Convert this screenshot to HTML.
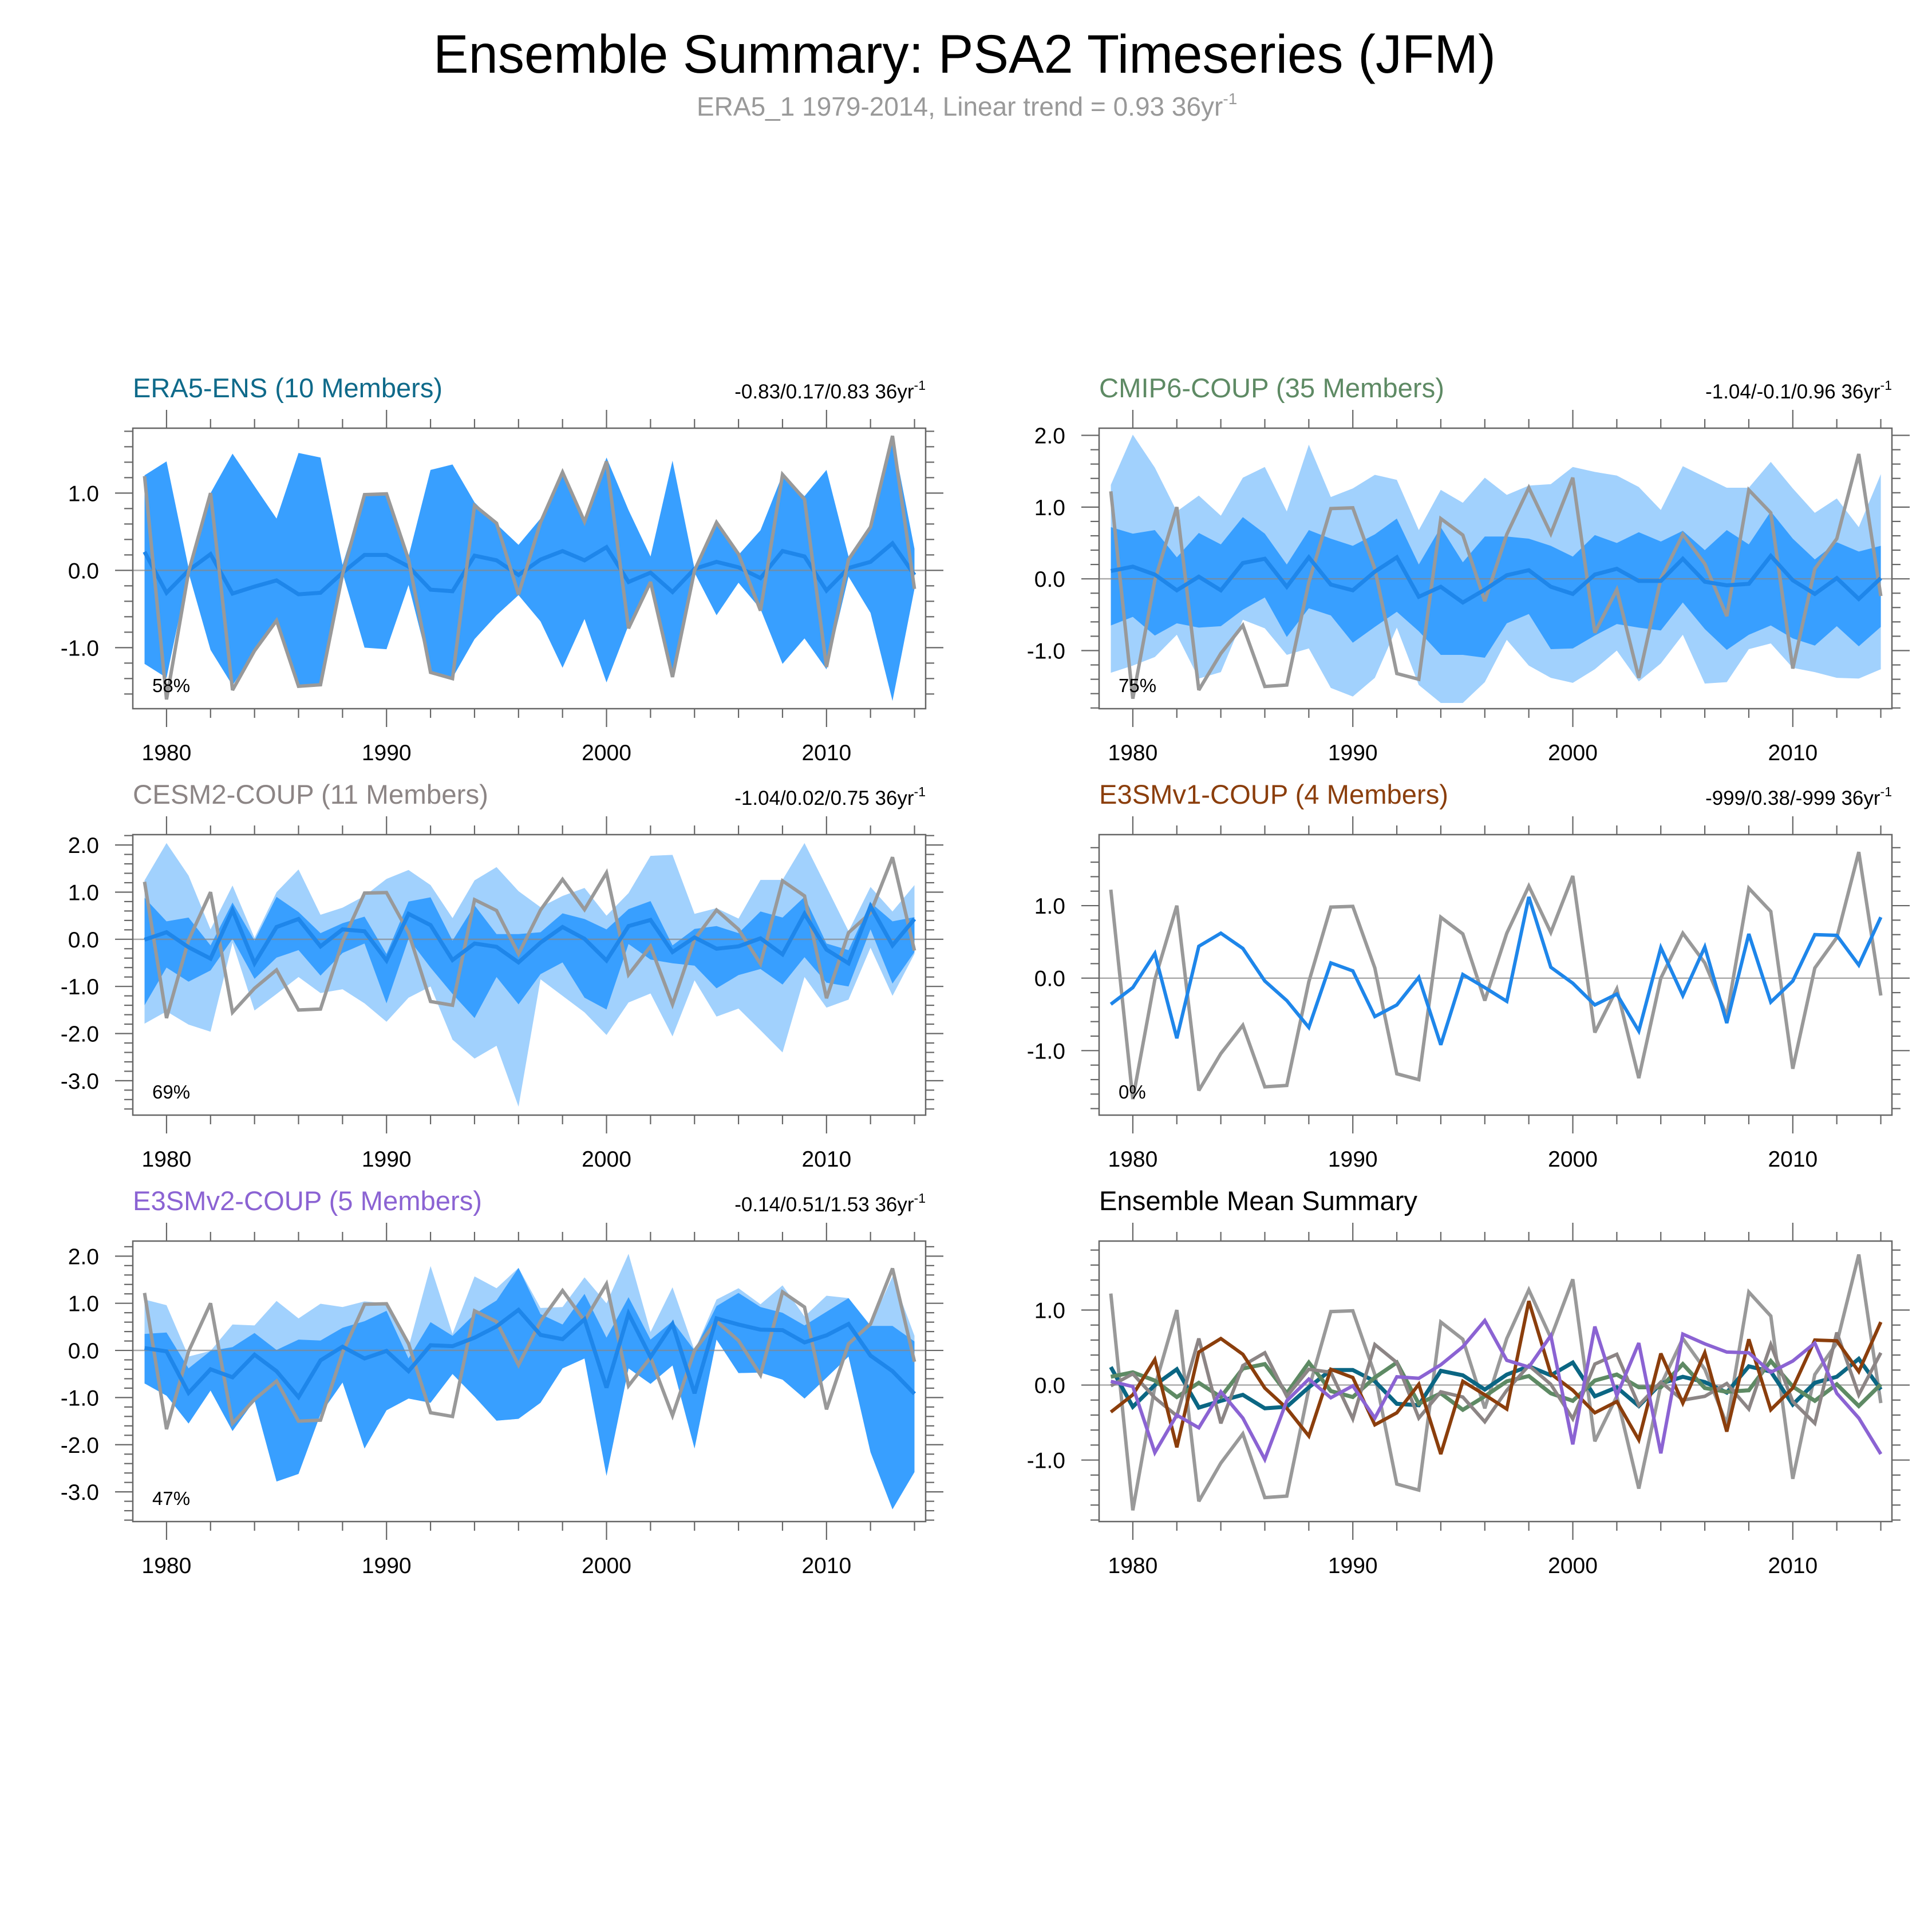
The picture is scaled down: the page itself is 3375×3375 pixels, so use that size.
<!DOCTYPE html>
<html><head><meta charset="utf-8"><style>
html,body{margin:0;padding:0;background:#fff;}
svg{display:block;}
text{font-family:"Liberation Sans",Arial,sans-serif;}
</style></head><body>
<svg id="chart" width="3375" height="3375" viewBox="0 0 3375 3375" xmlns="http://www.w3.org/2000/svg">
<rect x="0" y="0" width="3375" height="3375" fill="#fff"/>
<text x="1685" y="127" font-size="95" text-anchor="middle" textLength="1856" lengthAdjust="spacingAndGlyphs" fill="#000">Ensemble Summary: PSA2 Timeseries (JFM)</text>
<text x="1217" y="202" font-size="46" fill="#999">ERA5_1 1979-2014, Linear trend = 0.93 36yr<tspan font-size="28" dy="-20">-1</tspan></text>
</svg>
<script>
// ---- data ----
const startYear = 1979;
const nYears = 36;
const obsERA5 = [1.22,-1.67,-0.02,1.0,-1.55,-1.04,-0.65,-1.5,-1.48,-0.05,0.98,0.99,0.14,-1.32,-1.4,0.84,0.61,-0.31,0.62,1.27,0.63,1.41,-0.75,-0.15,-1.38,0.0,0.62,0.21,-0.52,1.24,0.92,-1.25,0.14,0.56,1.74,-0.24];

const era5Mean = [0.24,-0.29,0,0.21,-0.3,-0.21,-0.13,-0.31,-0.29,-0.03,0.2,0.2,0.05,-0.25,-0.27,0.19,0.13,-0.06,0.14,0.25,0.13,0.3,-0.15,-0.03,-0.28,0.02,0.11,0.04,-0.1,0.25,0.18,-0.26,0.03,0.11,0.35,-0.06];
const era5Hi = [1.23,1.41,0.03,1.0,1.51,1.09,0.67,1.52,1.46,0.07,0.99,1.01,0.18,1.3,1.37,0.88,0.6,0.33,0.67,1.27,0.65,1.46,0.78,0.18,1.42,0.02,0.62,0.2,0.52,1.24,0.96,1.3,0.18,0.6,1.74,0.28];
const era5Lo = [-1.21,-1.39,-0.03,-1.03,-1.49,-1.05,-0.66,-1.52,-1.48,-0.03,-1.0,-1.02,-0.19,-1.31,-1.39,-0.89,-0.58,-0.32,-0.66,-1.26,-0.63,-1.45,-0.71,-0.16,-1.34,-0.03,-0.58,-0.16,-0.5,-1.21,-0.88,-1.28,-0.08,-0.55,-1.69,-0.24];

const cmipMean = [0.11,0.17,0.06,-0.16,0.03,-0.16,0.22,0.28,-0.11,0.30,-0.08,-0.16,0.10,0.30,-0.25,-0.11,-0.33,-0.15,0.05,0.12,-0.11,-0.21,0.06,0.14,-0.03,-0.03,0.28,-0.04,-0.09,-0.07,0.32,-0.02,-0.21,0.01,-0.28,0.01];
const cmipHi50 = [0.72,0.63,0.68,0.30,0.64,0.48,0.86,0.63,0.20,0.68,0.56,0.46,0.62,0.84,0.20,0.72,0.23,0.59,0.59,0.56,0.46,0.31,0.61,0.50,0.65,0.52,0.67,0.40,0.68,0.48,0.94,0.56,0.27,0.51,0.38,0.46];
const cmipLo50 = [-0.65,-0.53,-0.79,-0.62,-0.68,-0.66,-0.43,-0.26,-0.81,-0.41,-0.51,-0.89,-0.67,-0.46,-0.73,-1.06,-1.06,-1.10,-0.62,-0.49,-0.98,-0.97,-0.79,-0.63,-0.68,-0.72,-0.33,-0.70,-0.99,-0.78,-0.65,-0.83,-0.93,-0.66,-0.94,-0.67];
const cmipHi = [1.31,2.01,1.55,0.94,1.16,0.88,1.41,1.56,0.94,1.87,1.14,1.26,1.45,1.38,0.68,1.24,1.06,1.41,1.17,1.30,1.32,1.56,1.49,1.44,1.28,0.96,1.57,1.42,1.27,1.27,1.63,1.26,0.92,1.12,0.72,1.46];
const cmipLo = [-1.31,-1.21,-1.09,-0.78,-1.39,-1.30,-0.57,-0.69,-1.06,-0.97,-1.52,-1.64,-1.38,-0.68,-1.48,-1.73,-1.73,-1.44,-0.85,-1.21,-1.38,-1.45,-1.26,-1.00,-1.43,-1.18,-0.78,-1.46,-1.44,-0.98,-0.90,-1.24,-1.30,-1.38,-1.39,-1.26];

const cesmMean = [-0.01,0.15,-0.17,-0.41,0.62,-0.51,0.26,0.43,-0.15,0.21,0.17,-0.45,0.54,0.30,-0.44,-0.09,-0.16,-0.49,-0.07,0.26,0.01,-0.45,0.28,0.41,-0.27,0.04,-0.20,-0.15,0.02,-0.32,0.54,-0.22,-0.51,0.70,-0.13,0.43];
const cesmHi50 = [0.88,0.38,0.46,-0.13,0.78,-0.03,0.90,0.58,0.13,0.34,0.48,-0.31,0.80,0.89,-0.03,0.72,0.11,0.11,0.15,0.55,0.43,0.21,0.64,0.81,-0.13,0.22,0.28,0.13,0.59,0.46,0.90,-0.09,-0.23,0.78,0.38,0.47];
const cesmLo50 = [-1.40,-0.60,-0.90,-0.66,0.01,-0.84,-0.39,-0.23,-0.77,-0.29,-0.09,-1.36,0.01,-0.60,-1.16,-1.67,-0.80,-1.38,-0.74,-0.49,-1.24,-1.49,-0.10,-0.43,-0.51,-0.56,-1.04,-0.76,-0.63,-0.96,-0.38,-0.92,-1.00,0.21,-0.94,-0.27];
const cesmHi = [1.25,2.04,1.35,0.21,1.14,0.03,1.00,1.48,0.52,0.67,0.92,1.28,1.47,1.15,0.45,1.25,1.53,1.02,0.68,0.92,1.09,0.50,0.98,1.77,1.79,0.54,0.66,0.44,1.26,1.26,2.04,1.11,0.17,1.11,0.59,1.15];
const cesmLo = [-1.79,-1.53,-1.81,-1.96,-0.07,-1.51,-1.16,-0.80,-1.14,-1.06,-1.36,-1.75,-1.24,-1.00,-2.13,-2.53,-2.26,-3.55,-0.85,-1.20,-1.55,-2.03,-1.34,-1.15,-2.06,-0.87,-1.64,-1.47,-1.93,-2.40,-0.80,-1.45,-1.28,-0.18,-1.20,-0.31];

const e3v1Mean = [-0.36,-0.13,0.34,-0.83,0.44,0.62,0.41,-0.04,-0.31,-0.68,0.21,0.10,-0.53,-0.37,0.01,-0.92,0.05,-0.13,-0.32,1.12,0.15,-0.07,-0.37,-0.22,-0.73,0.42,-0.24,0.43,-0.62,0.61,-0.33,-0.04,0.60,0.59,0.18,0.84];

const e3v2Mean = [0.05,-0.02,-0.90,-0.40,-0.57,-0.09,-0.44,-0.99,-0.21,0.08,-0.17,-0.01,-0.44,0.11,0.09,0.27,0.51,0.86,0.33,0.24,0.66,-0.79,0.78,-0.14,0.56,-0.91,0.68,0.55,0.44,0.43,0.17,0.32,0.56,-0.11,-0.44,-0.92];
const e3v2Hi50 = [0.35,0.38,-0.38,-0.01,0.07,0.37,0.01,0.23,0.21,0.48,0.62,0.84,-0.17,0.60,0.31,0.77,1.06,1.75,0.77,0.55,1.20,0.27,1.13,0.23,0.62,0.00,0.94,1.22,0.92,0.80,0.53,0.82,1.11,0.52,0.52,0.19];
const e3v2Lo50 = [-0.70,-0.96,-1.55,-0.85,-1.71,-1.06,-2.78,-2.62,-1.35,-0.68,-2.08,-1.27,-1.02,-1.11,-0.50,-0.98,-1.49,-1.45,-1.11,-0.38,-0.17,-2.66,-0.38,-0.71,-0.32,-2.08,0.23,-0.48,-0.47,-0.62,-1.02,-0.58,-0.13,-2.16,-3.37,-2.58];
const e3v2Hi = [1.08,0.96,-0.13,-0.01,0.55,0.53,1.05,0.68,0.99,0.92,1.04,1.00,0.07,1.79,0.35,1.57,1.32,1.75,0.90,0.92,1.55,1.00,2.05,0.39,1.34,0.00,1.08,1.32,0.98,1.38,0.72,1.16,1.11,0.53,1.57,0.31];
const e3v2Lo = e3v2Lo50;

const xTickLabels = [1980,1990,2000,2010];

// ---- drawing ----
const NS = 'http://www.w3.org/2000/svg';
const svg = document.getElementById('chart');
function mk(tag, attrs, parent){
  const e = document.createElementNS(NS, tag);
  for (const k in attrs) e.setAttribute(k, attrs[k]);
  (parent||svg).appendChild(e);
  return e;
}
const C_LIGHT = '#a1d1fd', C_DARK = '#389fff', C_MEAN = '#1e86ea', C_OBS = '#999999';

function makePanel(p){
  const g = mk('g', {});
  
  
  const w = 1385, h = 490;
  const xs = i => p.x0 + 20.5 + i * 38.43;
  const xy = yr => xs(yr - startYear);
  const ys = v => p.y0 + (p.ymax - v) / (p.ymax - p.ymin) * h;
  function band(hi, lo, color, nm){
    let d = '';
    for (let i=0;i<nYears;i++) d += (i?'L':'M') + xs(i).toFixed(1) + ',' + ys(hi[i]).toFixed(1);
    for (let i=nYears-1;i>=0;i--) d += 'L' + xs(i).toFixed(1) + ',' + ys(lo[i]).toFixed(1);
    const e = mk('path', {d: d+'Z', fill: color, stroke: 'none'}, g);
    
    
  }
  function line(arr, color, width, nm){
    let d = '';
    for (let i=0;i<nYears;i++) d += (i?'L':'M') + xs(i).toFixed(1) + ',' + ys(arr[i]).toFixed(1);
    const e = mk('path', {d: d, fill: 'none', stroke: color, 'stroke-width': width, 'stroke-linejoin': 'miter', 'stroke-miterlimit': 3}, g);
    
    
  }
  if (p.light) band(p.light[0], p.light[1], C_LIGHT, 'outer-spread-band');
  if (p.dark) band(p.dark[0], p.dark[1], C_DARK, 'inner-spread-band');
  const z = mk('line', {x1: p.x0, x2: p.x0 + w, y1: ys(0), y2: ys(0), stroke: '#888', 'stroke-opacity': 0.7, 'stroke-width': 2.5}, g);
  
  
  if (p.lines) p.lines.forEach(l => line(l[0], l[1], l[2], l[3]));
  const fr = mk('rect', {x: p.x0, y: p.y0, width: w, height: h, fill: 'none', stroke: '#666', 'stroke-width': 2.5}, g);
  
  
  const tg = mk('g', {stroke: '#666', 'stroke-width': 2.2}, g);
  for (let k = Math.ceil(p.ymin*5); k <= Math.floor(p.ymax*5); k++){
    const v = k/5, y = ys(v), major = (k % 5 === 0), L = major ? 31 : 15;
    mk('line', {x1: p.x0 - L, x2: p.x0, y1: y, y2: y}, tg);
    mk('line', {x1: p.x0 + w, x2: p.x0 + w + L, y1: y, y2: y}, tg);
    if (major){
      const t = mk('text', {x: p.x0 - 59, y: y + 14, 'font-size': 39, 'text-anchor': 'end', fill: '#000', stroke: 'none'}, g);
      
      
      t.textContent = (v === 0 ? 0 : v).toFixed(1);
    }
  }
  for (let yr = 1980; yr <= 2014; yr += 2){
    const x = xy(yr), major = (yr % 10 === 0), L = major ? 32 : 16;
    mk('line', {x1: x, x2: x, y1: p.y0 + h, y2: p.y0 + h + L}, tg);
    mk('line', {x1: x, x2: x, y1: p.y0 - L, y2: p.y0}, tg);
  }
  xTickLabels.forEach(yr => {
    const t = mk('text', {x: xy(yr), y: p.y0 + h + 90, 'font-size': 39, 'text-anchor': 'middle', fill: '#000'}, g);
    
    
    t.textContent = yr;
  });
  const ht = mk('text', {x: p.x0, y: p.y0 - 54, 'font-size': 47, fill: p.color, textLength: p.tw, lengthAdjust: 'spacingAndGlyphs'}, g);
  
  
  ht.textContent = p.title;
  if (p.trend){
    const tt = mk('text', {x: p.x0 + w, y: p.y0 - 52, 'font-size': 35, 'text-anchor': 'end', fill: '#000'}, g);
    
    
    tt.textContent = p.trend + ' 36yr';
    const sp = mk('tspan', {'font-size': 23, dy: -15}, tt);
    sp.textContent = '-1';
  }
  if (p.pct){
    const pt = mk('text', {x: p.x0 + 34, y: p.y0 + 461, 'font-size': 33, fill: '#000'}, g);
    
    
    pt.textContent = p.pct;
  }
}

const LX = 232, RX = 1920, R1 = 748, R2 = 1458, R3 = 2168;
makePanel({name:'era5-ens-panel', x0:LX, y0:R1, ymin:-1.79, ymax:1.84, title:'ERA5-ENS (10 Members)', color:'#0f6a8a', tw:541, trend:'-0.83/0.17/0.83', pct:'58%',
  dark:[era5Hi, era5Lo], lines:[[era5Mean, C_MEAN, 7, 'ensemble-mean-line'], [obsERA5, C_OBS, 6, 'observed-era5-line']]});
makePanel({name:'cmip6-coup-panel', x0:RX, y0:R1, ymin:-1.81, ymax:2.10, title:'CMIP6-COUP (35 Members)', color:'#5e8a64', tw:603, trend:'-1.04/-0.1/0.96', pct:'75%',
  light:[cmipHi, cmipLo], dark:[cmipHi50, cmipLo50], lines:[[obsERA5, C_OBS, 6, 'observed-era5-line'], [cmipMean, C_MEAN, 7, 'ensemble-mean-line']]});
makePanel({name:'cesm2-coup-panel', x0:LX, y0:R2, ymin:-3.73, ymax:2.22, title:'CESM2-COUP (11 Members)', color:'#8c8585', tw:621, trend:'-1.04/0.02/0.75', pct:'69%',
  light:[cesmHi, cesmLo], dark:[cesmHi50, cesmLo50], lines:[[obsERA5, C_OBS, 6, 'observed-era5-line'], [cesmMean, C_MEAN, 7, 'ensemble-mean-line']]});
makePanel({name:'e3smv1-coup-panel', x0:RX, y0:R2, ymin:-1.89, ymax:1.98, title:'E3SMv1-COUP (4 Members)', color:'#8b3e0c', tw:610, trend:'-999/0.38/-999', pct:'0%',
  lines:[[obsERA5, C_OBS, 6, 'observed-era5-line'], [e3v1Mean, C_MEAN, 6, 'ensemble-mean-line']]});
makePanel({name:'e3smv2-coup-panel', x0:LX, y0:R3, ymin:-3.63, ymax:2.32, title:'E3SMv2-COUP (5 Members)', color:'#8b63d3', tw:610, trend:'-0.14/0.51/1.53', pct:'47%',
  light:[e3v2Hi, e3v2Lo], dark:[e3v2Hi50, e3v2Lo50], lines:[[obsERA5, C_OBS, 6, 'observed-era5-line'], [e3v2Mean, C_MEAN, 7, 'ensemble-mean-line']]});
makePanel({name:'ensemble-mean-summary-panel', x0:RX, y0:R3, ymin:-1.82, ymax:1.92, title:'Ensemble Mean Summary', color:'#000', tw:556,
  lines:[[obsERA5, C_OBS, 6, 'observed-era5-line'], [era5Mean, '#0b6683', 7, 'era5-ens-mean-line'], [cmipMean, '#5e8a64', 7, 'cmip6-mean-line'],
         [cesmMean, '#8c8585', 6, 'cesm2-mean-line'], [e3v1Mean, '#8b3e0c', 6, 'e3smv1-mean-line'], [e3v2Mean, '#8b63d3', 6, 'e3smv2-mean-line']]});
</script>
</body></html>
